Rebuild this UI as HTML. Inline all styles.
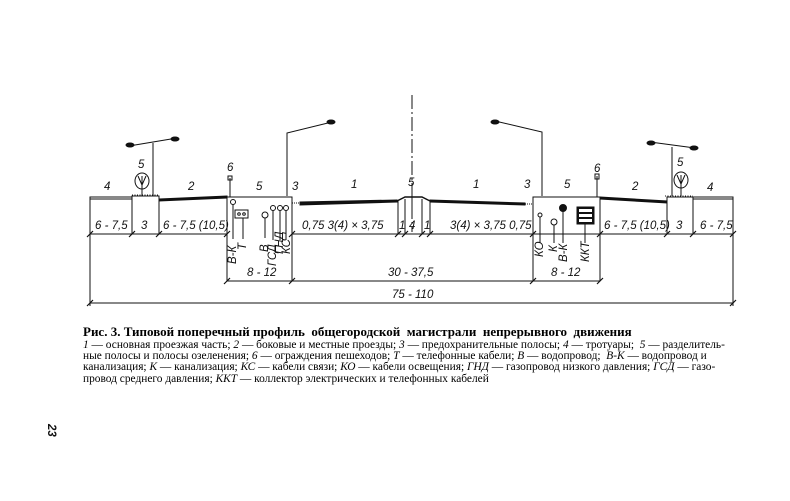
<!DOCTYPE html>
<html><head><meta charset="utf-8"><style>
html,body{margin:0;padding:0;background:#fff;}
body{width:790px;height:501px;overflow:hidden;position:relative;}
svg{position:absolute;left:0;top:0;}
.t{font-family:"Liberation Sans",sans-serif;font-style:italic;font-size:11.5px;fill:#111;}
.cap{position:absolute;left:83px;font-family:"Liberation Serif","DejaVu Serif",serif;color:#000;white-space:nowrap;}
</style></head><body>
<svg width="790" height="501" viewBox="0 0 790 501" stroke="#111" fill="none" stroke-width="1">
<line x1="412" y1="95" x2="412" y2="232" stroke-dasharray="14,3,2,3"/>
<polyline points="90,234 90,197 132,197"/>
<line x1="90" y1="199" x2="132" y2="199"/>
<rect x="132" y="196" width="27" height="38"/>
<line x1="132" y1="195" x2="159" y2="195" stroke-dasharray="1,1.5"/>
<polygon points="159,199 227,196 227,198 159,201" fill="#111"/>
<line x1="159" y1="201" x2="159" y2="234"/>
<rect x="227" y="197" width="65" height="84"/>
<line x1="230" y1="178" x2="230" y2="197"/><rect x="228" y="176" width="4" height="4"/>
<line x1="292" y1="205" x2="292" y2="234"/>
<polygon points="300,202 397,200 397,202 300,205" fill="#111"/>
<line x1="292" y1="203" x2="300" y2="203" stroke-dasharray="1,1"/>
<path d="M397,201 L405,197 L422,197 L430,201" stroke-width="1.5"/>
<line x1="398" y1="201" x2="398" y2="234"/><line x1="405" y1="199" x2="405" y2="234"/>
<line x1="422" y1="199" x2="422" y2="234"/><line x1="430" y1="201" x2="430" y2="234"/>
<line x1="412" y1="186" x2="412" y2="210"/>
<polygon points="430,200 525,203 525,205 430,202" fill="#111"/>
<line x1="525" y1="204" x2="533" y2="204" stroke-dasharray="1,1"/>
<rect x="533" y="197" width="67" height="84"/>
<line x1="597" y1="176" x2="597" y2="197"/><rect x="595" y="174" width="4" height="5"/>
<polygon points="600,197 667,201 667,203 600,199" fill="#111"/>
<rect x="667" y="197" width="26" height="37"/>
<line x1="665" y1="196" x2="693" y2="196" stroke-dasharray="1,1.5"/>
<polyline points="693,197 733,197 733,234"/>
<line x1="693" y1="199" x2="733" y2="199"/>
<line x1="153" y1="143" x2="153" y2="196"/><line x1="129" y1="146" x2="177" y2="138"/>
<ellipse cx="130" cy="145" rx="4" ry="2" fill="#111"/><ellipse cx="175" cy="139" rx="4" ry="2" fill="#111"/>
<polyline points="287,196 287,133 332,122"/><ellipse cx="331" cy="122" rx="4" ry="2" fill="#111"/>
<polyline points="542,196 542,132 495,121"/><ellipse cx="495" cy="122" rx="4" ry="2" fill="#111"/>
<line x1="672" y1="147" x2="672" y2="196"/><line x1="650" y1="142" x2="695" y2="148"/>
<ellipse cx="651" cy="143" rx="4" ry="2" fill="#111"/><ellipse cx="694" cy="148" rx="4" ry="2" fill="#111"/>
<ellipse cx="142" cy="181" rx="7" ry="8"/><line x1="142" y1="176" x2="142" y2="196"/><path d="M138,176 L142,185 L146,176"/>
<ellipse cx="681" cy="180" rx="7" ry="8"/><line x1="681" y1="175" x2="681" y2="196"/><path d="M677,175 L681,184 L685,175"/>
<circle cx="233" cy="202" r="2.5"/><line x1="233" y1="205" x2="233" y2="239"/>
<rect x="235" y="210" width="13" height="8"/><circle cx="239" cy="214" r="1.3"/><circle cx="244" cy="214" r="1.3"/><line x1="243" y1="218" x2="243" y2="239"/>
<circle cx="265" cy="215" r="3"/><line x1="265" y1="218" x2="265" y2="238"/>
<circle cx="273" cy="208" r="2.5"/><line x1="273" y1="211" x2="273" y2="240"/>
<circle cx="280" cy="208" r="2.5"/><line x1="280" y1="211" x2="280" y2="240"/>
<circle cx="286" cy="208" r="2.5"/><line x1="286" y1="211" x2="286" y2="240"/>
<circle cx="540" cy="215" r="2"/><line x1="540" y1="217" x2="540" y2="243"/>
<circle cx="554" cy="222" r="3"/><line x1="554" y1="225" x2="554" y2="243"/>
<circle cx="563" cy="208" r="3.5" fill="#111"/><line x1="563" y1="211" x2="563" y2="243"/>
<rect x="577" y="207" width="17" height="17" fill="#111"/>
<g fill="#fff" stroke="none"><rect x="579" y="209" width="13" height="3"/><rect x="579" y="214" width="13" height="3"/><rect x="579" y="219" width="13" height="3"/></g>
<line x1="585" y1="224" x2="585" y2="243"/>
<line x1="90" y1="234" x2="227" y2="234"/>
<line x1="292" y1="234" x2="733" y2="234"/>
<line x1="227" y1="281" x2="600" y2="281"/>
<line x1="90" y1="234" x2="90" y2="306"/><line x1="733" y1="234" x2="733" y2="306"/>
<line x1="90" y1="303" x2="733" y2="303"/>
<g stroke-width="1.2">
<path d="M87,237 L93,231 M129,237 L135,231 M156,237 L162,231 M224,237 L230,231 M289,237 L295,231 M395,237 L401,231 M402,237 L408,231 M419,237 L425,231 M427,237 L433,231 M530,237 L536,231 M597,237 L603,231 M664,237 L670,231 M690,237 L696,231 M730,237 L736,231 M224,284 L230,278 M289,284 L295,278 M530,284 L536,278 M597,284 L603,278 M87,306 L93,300 M730,306 L736,300"/>
</g>
<g stroke="none">
<text class="t" x="104" y="190">4</text><text class="t" x="138" y="168">5</text>
<text class="t" x="188" y="190">2</text><text class="t" x="227" y="171">6</text>
<text class="t" x="256" y="190">5</text><text class="t" x="292" y="190">3</text>
<text class="t" x="351" y="188">1</text><text class="t" x="408" y="186">5</text>
<text class="t" x="473" y="188">1</text><text class="t" x="524" y="188">3</text>
<text class="t" x="564" y="188">5</text><text class="t" x="594" y="172">6</text>
<text class="t" x="632" y="190">2</text><text class="t" x="677" y="166">5</text>
<text class="t" x="707" y="191">4</text>
<text class="t" x="95" y="229">6 - 7,5</text><text class="t" x="141" y="229">3</text>
<text class="t" x="163" y="229">6 - 7,5 (10,5)</text>
<text class="t" x="302" y="229">0,75  3(4) × 3,75</text>
<text class="t" x="399" y="229">1</text><text class="t" x="409" y="229">4</text><text class="t" x="424" y="229">1</text>
<text class="t" x="450" y="229">3(4) × 3,75  0,75</text>
<text class="t" x="604" y="229">6 - 7,5 (10,5)</text><text class="t" x="676" y="229">3</text>
<text class="t" x="700" y="229">6 - 7,5</text>
<text class="t" x="247" y="276">8 - 12</text><text class="t" x="551" y="276">8 - 12</text>
<text class="t" x="388" y="276">30 - 37,5</text>
<text class="t" x="392" y="298">75 - 110</text>
<g class="t" font-size="10">
<text transform="translate(236,264) rotate(-90)">В-К</text>
<text transform="translate(246,250) rotate(-90)">Т</text>
<text transform="translate(268,252) rotate(-90)">В</text>
<text transform="translate(276,266) rotate(-90)">ГСД</text>
<text transform="translate(283,254) rotate(-90)">ГНД</text>
<text transform="translate(290,254) rotate(-90)">КС</text>
<text transform="translate(543,257) rotate(-90)">КО</text>
<text transform="translate(557,252) rotate(-90)">К</text>
<text transform="translate(567,262) rotate(-90)">В-К</text>
<text transform="translate(589,262) rotate(-90)">ККТ</text>
</g>
<text class="t" font-style="normal" font-weight="bold" font-size="12" transform="translate(48,424) rotate(90)">23</text>
</g>
</svg>
<div class="cap" style="top:324px;font-size:13px;font-weight:bold;">Рис. 3. Типовой поперечный профиль &nbsp;общегородской &nbsp;магистрали &nbsp;непрерывного &nbsp;движения</div>
<div class="cap" style="top:340px;font-size:11.4px;line-height:11.2px;">
<i>1</i> — основная проезжая часть; <i>2</i> — боковые и местные проезды; <i>3</i> — предохранительные полосы; <i>4</i> — тротуары; &nbsp;<i>5</i> — разделитель-<br>
ные полосы и полосы озеленения; <i>6</i> — ограждения пешеходов; <i>Т</i> — телефонные кабели; <i>В</i> — водопровод; &nbsp;<i>В-К</i> — водопровод и<br>
канализация; <i>К</i> — канализация; <i>КС</i> — кабели связи; <i>КО</i> — кабели освещения; <i>ГНД</i> — газопровод низкого давления; <i>ГСД</i> — газо-<br>
провод среднего давления; <i>ККТ</i> — коллектор электрических и телефонных кабелей</div>
</body></html>
